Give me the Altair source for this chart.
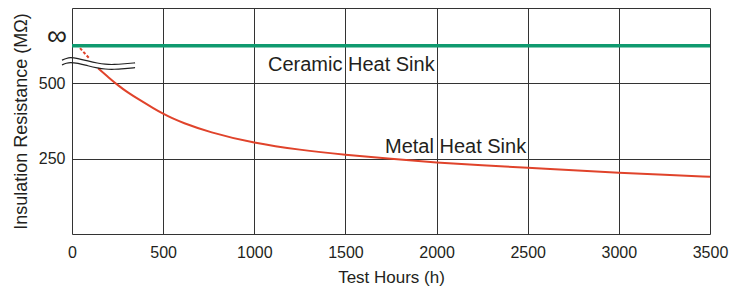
import altair as alt
import pandas as pd

# ---- data ----
x_ticks = [0, 500, 1000, 1500, 2000, 2500, 3000, 3500]
y_grid = [0, 125, 250, 375, 500, 625, 750]
y_labelled = [250, 500]

ceramic_hours = [0, 3500]
ceramic_values = [625, 625]

metal_dash_hours = [44, 99]
metal_dash_values = [617, 580]

metal_hours = [143, 200, 253, 300, 373, 450, 500, 550, 600, 750, 1000, 1250, 1500,
               1750, 2000, 2250, 2500, 2750, 3000, 3250, 3500]
metal_values = [550, 520, 493, 472, 444, 416, 399, 384, 371, 338, 301, 279, 263,
                249, 237, 228, 220, 211, 203, 197, 190]

break_hours = [-55, -30, -11, 30, 88, 140, 181, 230, 290, 346]
break_upper = [577, 583, 586, 583, 574, 567, 563, 562, 565, 568]
break_lower = [561, 567, 570, 567, 558, 551, 547, 546, 549, 552]

label_texts = ["Ceramic Heat Sink", "Metal Heat Sink"]
label_hours = [1075, 1717]
label_values = [540, 270]

inf_hours = [-82]
inf_values = [654]

FONT = "Liberation Sans"
TXT = "#231f20"
GREEN = "#0f9a6f"
RED = "#e0432b"

xs = alt.Scale(domain=[0, 3500], nice=False, zero=False)
ys = alt.Scale(domain=[0, 750], nice=False, zero=False)

x_axis = alt.Axis(values=x_ticks, title="Test Hours (h)", grid=True, format="d",
                  gridColor="#333333", gridWidth=1, ticks=False, domain=False,
                  labelFlush=False,
                  labelFontSize=16, labelPadding=10, labelColor=TXT,
                  labelFont=FONT, titleFont=FONT, titleFontSize=17,
                  titleFontWeight="normal", titleColor=TXT, titlePadding=9)
y_axis = alt.Axis(values=y_grid, title="Insulation Resistance (MΩ)", grid=True,
                  gridColor="#333333", gridWidth=1, ticks=False, domain=False,
                  labelExpr="(datum.value == 250 || datum.value == 500) ? datum.label : ''",
                  labelFontSize=16, labelPadding=7, labelColor=TXT,
                  labelFont=FONT, titleFont=FONT, titleFontSize=18,
                  titleFontWeight="normal", titleColor=TXT, titlePadding=8)

ceramic_df = pd.DataFrame({"h": ceramic_hours, "v": ceramic_values})
dash_df = pd.DataFrame({"h": metal_dash_hours, "v": metal_dash_values})
metal_df = pd.DataFrame({"h": metal_hours, "v": metal_values})
brk_df = pd.DataFrame({
    "h": break_hours + break_hours,
    "v": break_upper + break_lower,
    "line": ["upper"] * len(break_hours) + ["lower"] * len(break_hours),
})
lab_df = pd.DataFrame({"t": label_texts, "h": label_hours, "v": label_values})
inf_df = pd.DataFrame({"t": ["∞"], "h": inf_hours, "v": inf_values})

base_x = alt.X("h:Q", scale=xs, axis=x_axis)
base_y = alt.Y("v:Q", scale=ys, axis=y_axis)

grid_layer = alt.Chart(ceramic_df).mark_point(opacity=0).encode(x=base_x, y=base_y)

ceramic = alt.Chart(ceramic_df).mark_line(color=GREEN, strokeWidth=3.5, clip=False).encode(
    x=alt.X("h:Q", scale=xs), y=alt.Y("v:Q", scale=ys))

dash = alt.Chart(dash_df).mark_line(color=RED, strokeWidth=2, strokeDash=[3, 2], clip=False).encode(
    x=alt.X("h:Q", scale=xs), y=alt.Y("v:Q", scale=ys))

metal = alt.Chart(metal_df).mark_line(color=RED, strokeWidth=2, interpolate="basis", clip=False).encode(
    x=alt.X("h:Q", scale=xs), y=alt.Y("v:Q", scale=ys))

brk = alt.Chart(brk_df).mark_line(color="#222222", strokeWidth=1.2, interpolate="basis", clip=False).encode(
    x=alt.X("h:Q", scale=xs), y=alt.Y("v:Q", scale=ys), detail="line:N")

labels = alt.Chart(lab_df).mark_text(align="left", baseline="alphabetic", fontSize=20,
                                     font=FONT, color=TXT).encode(
    x=alt.X("h:Q", scale=xs), y=alt.Y("v:Q", scale=ys), text="t:N")

inf = alt.Chart(inf_df).mark_text(align="center", baseline="middle", fontSize=28,
                                  font=FONT, color=TXT, clip=False).encode(
    x=alt.X("h:Q", scale=xs), y=alt.Y("v:Q", scale=ys), text="t:N")

chart = alt.layer(grid_layer, ceramic, metal, dash, brk, labels, inf).properties(
    width=638, height=226,
    autosize=alt.AutoSizeParams(type="none"),
    padding={"left": 64, "top": 0, "right": 20, "bottom": 55},
).configure_view(stroke="#222222", strokeWidth=2).configure(background="white")

chart.save("out.html", embed_options={"renderer": "svg", "actions": False})
